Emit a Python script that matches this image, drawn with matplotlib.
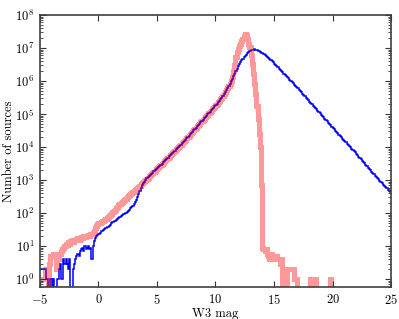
import matplotlib
matplotlib.use("Agg")
import matplotlib.pyplot as plt
import numpy as np

# histogram bins (W3 mag), 0.1 mag wide from -5 to 25
bin_lo = -5.0
bin_hi = 25.0
bin_width = 0.1

# all-sky W3 counts (blue), one row per magnitude
blue_counts = [
    2, 2, 2, 2, 2, 1, 1, 0, 0, 1,                                   # -5
    0, 1, 0, 0, 0, 1, 2, 3, 1, 1,                                   # -4
    4, 3, 4, 3, 2, 4, 0, 0, 2, 3,                                   # -3
    4, 5, 6, 5, 7, 8, 9, 7, 10, 8,                                  # -2
    9, 10, 8, 9, 4, 10, 14, 18, 20, 22,                             # -1
    24, 26, 28, 29, 30, 33, 35, 37, 38, 40,                         # 0
    45, 50, 54, 57, 60, 64, 68, 72, 76, 80,                         # 1
    86, 92, 98, 104, 110, 118, 128, 140, 155, 170,                  # 2
    185, 215, 255, 310, 380, 470, 590, 720, 810, 900,               # 3
    1040, 1130, 1230, 1340, 1450, 1570, 1700, 1840, 1990, 2150,     # 4
    2330, 2520, 2720, 2940, 3180, 3450, 3750, 4070, 4430, 4810,     # 5
    5220, 5680, 6170, 6700, 7280, 7910, 8590, 9330, 10100, 11000,   # 6
    12000, 13100, 14300, 15600, 17000, 18600, 20400, 22400, 24500, 26900,  # 7
    29500, 32400, 35500, 38900, 42700, 46800, 51300, 56200, 61700, 67600,  # 8
    74100, 81300, 89100, 97700, 1.07e5, 1.17e5, 1.29e5, 1.41e5, 1.55e5, 1.70e5,  # 9
    1.87e5, 2.07e5, 2.29e5, 2.54e5, 2.81e5, 3.15e5, 3.58e5, 4.07e5, 4.63e5, 5.27e5,  # 10
    6.10e5, 7.16e5, 8.41e5, 9.89e5, 1.16e6, 1.38e6, 1.66e6, 2.00e6, 2.40e6, 2.88e6,  # 11
    3.35e6, 3.76e6, 4.22e6, 4.73e6, 5.31e6, 5.85e6, 6.32e6, 6.84e6, 7.40e6, 8.00e6,  # 12
    8.45e6, 8.71e6, 8.97e6, 9.12e6, 9.02e6, 8.71e6, 8.32e6, 7.94e6, 7.59e6, 7.24e6,  # 13
    6.87e6, 6.47e6, 6.10e6, 5.74e6, 5.41e6, 5.05e6, 4.67e6, 4.32e6, 3.99e6, 3.69e6,  # 14
    3.40e6, 3.11e6, 2.85e6, 2.61e6, 2.39e6, 2.19e6, 2.01e6, 1.84e6, 1.69e6, 1.55e6,  # 15
    1.42e6, 1.30e6, 1.20e6, 1.10e6, 1.01e6, 9.27e5, 8.51e5, 7.82e5, 7.18e5, 6.59e5,  # 16
    6.03e5, 5.50e5, 5.01e5, 4.57e5, 4.17e5, 3.80e5, 3.47e5, 3.16e5, 2.88e5, 2.63e5,  # 17
    2.40e5, 2.19e5, 2.00e5, 1.82e5, 1.66e5, 1.51e5, 1.38e5, 1.26e5, 1.15e5, 1.05e5,  # 18
    95500, 87100, 79400, 72400, 66100, 60300, 55000, 50100, 45700, 41700,  # 19
    38000, 34700, 31600, 28800, 26300, 24000, 21900, 20000, 18200, 16600,  # 20
    15200, 13900, 12700, 11700, 10700, 9790, 8970, 8220, 7530, 6900,       # 21
    6300, 5710, 5190, 4710, 4280, 3880, 3520, 3200, 2900, 2640,            # 22
    2400, 2190, 2000, 1820, 1660, 1510, 1380, 1260, 1150, 1050,            # 23
    957, 870, 812, 730, 680, 612, 570, 515, 478, 430,                      # 24
]

# detected W3 counts (pink)
pink_counts = [
    1, 1, 1, 1, 2, 2, 2, 0, 3, 5,                                   # -5
    5, 6, 5, 6, 2, 4, 6, 6, 7, 8,                                   # -4
    9, 10, 12, 11, 13, 12, 14, 15, 13, 16,                          # -3
    16, 17, 18, 16, 17, 19, 18, 20, 19, 21,                         # -2
    20, 22, 21, 23, 24, 26, 28, 35, 42, 48,                         # -1
    50, 52, 54, 57, 60, 64, 68, 72, 77, 83,                         # 0
    90, 98, 107, 117, 128, 140, 155, 172, 190, 205,                 # 1
    222, 240, 258, 278, 300, 322, 346, 372, 400, 430,               # 2
    462, 496, 532, 570, 612, 660, 740, 800, 860, 930,               # 3
    1010, 1100, 1200, 1310, 1420, 1540, 1670, 1810, 1960, 2120,     # 4
    2300, 2490, 2690, 2910, 3150, 3420, 3710, 4030, 4390, 4770,     # 5
    5170, 5630, 6110, 6640, 7210, 7840, 8510, 9240, 10000, 10900,   # 6
    11900, 13000, 14200, 15500, 16900, 18500, 20200, 22200, 24300, 26700,  # 7
    29300, 32100, 35200, 38600, 42300, 46400, 50800, 55700, 61100, 67000,  # 8
    73500, 80600, 88300, 96800, 1.06e5, 1.16e5, 1.28e5, 1.40e5, 1.54e5, 1.69e5,  # 9
    1.86e5, 2.05e5, 2.27e5, 2.52e5, 2.79e5, 3.12e5, 3.55e5, 4.03e5, 4.58e5, 5.20e5,  # 10
    6.03e5, 7.08e5, 8.32e5, 1.00e6, 1.32e6, 2.00e6, 3.16e6, 5.25e6, 7.59e6, 9.55e6,  # 11
    1.15e7, 1.35e7, 1.58e7, 1.91e7, 2.34e7, 2.63e7, 2.40e7, 1.86e7, 1.32e7, 1.10e7,  # 12
    6.31e6, 3.31e6, 1.66e6, 8.32e5, 3.98e5, 1.78e5, 70800, 25100, 10000, 708,       # 13
    9, 8, 7, 8, 6, 5, 4, 6, 5, 5,                                   # 14
    5, 4, 5, 4, 4, 3, 4, 0, 1, 0,                                   # 15
    0, 2, 2, 2, 2, 2, 2, 1, 1, 1,                                   # 16
    0, 0, 0, 0, 0, 0, 0, 0, 0, 0,                                   # 17
    0, 1, 0, 0, 0, 1, 0, 0, 0, 0,                                   # 18
    0, 0, 0, 0, 0, 0, 0, 0, 1, 0,                                   # 19
    0, 0, 0, 0, 0, 0, 0, 0, 0, 0,                                   # 20
    0, 0, 0, 0, 0, 0, 0, 0, 0, 0,                                   # 21
    0, 0, 0, 0, 0, 0, 0, 0, 0, 0,                                   # 22
    0, 0, 0, 0, 0, 0, 0, 0, 0, 0,                                   # 23
    0, 0, 0, 0, 0, 0, 0, 0, 0, 0,                                   # 24
]

edges = np.linspace(bin_lo, bin_hi, len(blue_counts) + 1)
blue = np.array(blue_counts, dtype=float)
pink = np.array(pink_counts, dtype=float)
# empty bins sit just under the bottom of the log axis
blue = np.where(blue > 0, blue, 0.5)
pink = np.where(pink > 0, pink, 0.5)

plt.rcParams['font.family'] = 'serif'
plt.rcParams['font.serif'] = ['cmr10']
plt.rcParams['mathtext.fontset'] = 'cm'
plt.rcParams['axes.formatter.use_mathtext'] = True
plt.rcParams['font.size'] = 9

fig = plt.figure(figsize=(3.99, 3.19), dpi=100)
ax = fig.add_axes([0.1, 0.1, 0.88, 0.853])

ax.stairs(blue, edges, baseline=None, color='b', lw=1.1)
ax.stairs(pink, edges, baseline=None, color='r', alpha=0.4, lw=3.6)

ax.set_yscale('log')
ax.set_xlim(-5, 25)
ax.set_ylim(0.58, 1e8)
ax.set_xticks([-5, 0, 5, 10, 15, 20, 25])
ax.set_yticks([1e0, 1e1, 1e2, 1e3, 1e4, 1e5, 1e6, 1e7, 1e8])

ax.tick_params(which='both', direction='in', top=True, right=True, colors='0.2',
               labelcolor='k', pad=4)
ax.tick_params(which='major', length=4, width=0.8)
ax.tick_params(which='minor', length=2, width=0.6)
for s in ax.spines.values():
    s.set_linewidth(1.2)
    s.set_color('0.25')

ax.set_xlabel('W3 mag', labelpad=1)
ax.set_ylabel('Number of sources', labelpad=0)

fig.savefig('out.png', dpi=100)
